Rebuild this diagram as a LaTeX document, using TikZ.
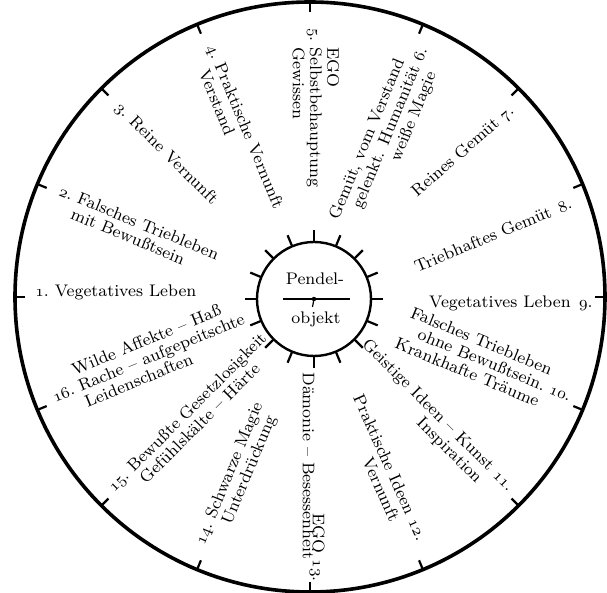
\documentclass[tikz,border=0pt]{standalone}
\usepackage{fontspec}
\usetikzlibrary{calc}
\newcommand{\osn}[1]{{\usefont{OML}{cmm}{m}{it}#1}}

\begin{document}
\begin{tikzpicture}[
    x=0.5pt, y=0.5pt,
    font=\fontsize{8.4}{8.6}\selectfont,
    rim/.style={line width=1.8pt},
    hub/.style={line width=1.2pt},
    notch/.style={line width=1.1pt},
    lbl/.style={inner sep=0pt, align=left, anchor=base west},
    rbl/.style={inner sep=0pt, align=right, anchor=base east}
  ]
  \useasboundingbox (-310,-296) rectangle (297,297);
  \coordinate (c) at (0,0);
  \coordinate (pc) at (4,-2);
  % wheel
  \draw[rim] (c) circle[radius=295];
  \draw[hub] (pc) circle[radius=57];
  \foreach \a in {0,22.5,...,337.5} {
    \draw[notch] (\a:295) -- (\a:285);
    \draw[notch] ($(pc)+(\a:57)$) -- ($(pc)+(\a:69)$);
  }
  % pendulum in the hub
  \node[inner sep=0pt, anchor=base] (pend) at (5,12) {Pendel-};
  \node[inner sep=0pt, anchor=base] (obj) at (6,-27) {objekt};
  \coordinate (bl) at (-27,-2);
  \coordinate (br) at (40,-2);
  \draw[line width=1.3pt] (bl) -- (br);
  \fill (pc) circle[radius=2.2];
  \draw[line width=0.6pt] (pc) -- ++(-1.5,-8);
  % left half: read towards the hub (anchor = last line)
  \node[lbl, rotate=0] (l1) at (180:275) {\osn{1}.~Vegetatives Leben};
  \node[lbl, rotate=-22.5] (l2) at ($(158:272)+(-112.5:17)$) {\osn{2}.~Falsches Triebleben\\\phantom{\osn{2}.~}mit Bewußtsein};
  \node[lbl, rotate=-45] (l3) at (136:272) {\osn{3}.~Reine Vernunft};
  \node[lbl, rotate=-67.5] (l4) at ($(112.5:270)+(-157.5:17)$) {\osn{4}.~Praktische Vernunft\\\phantom{\osn{4}.~}Verstand};
  \node[lbl, rotate=-90] (l5) at ($(90:269)+(180:17)$) {\phantom{\osn{5}.~}EGO\\\osn{5}.~Selbstbehauptung\\\phantom{\osn{5}.~}Gewissen};
  \node[lbl, rotate=22.5] (l16) at ($(202.5:276)+(-67.5:17)$) {\phantom{\osn{16}.~}Wilde Affekte -- Haß\\\osn{16}.~Rache -- aufgepeitschte\\\phantom{\osn{16}.~}Leidenschaften};
  \node[lbl, rotate=45] (l15) at ($(225:277)+(-45:17)$) {\osn{15}.~Bewußte Gesetzlosigkeit\\\phantom{\osn{15}.~}Gefühlskälte -- Härte};
  \node[lbl, rotate=67.5] (l14) at ($(247:270)+(-22.5:17)$) {\osn{14}.~Schwarze Magie\\\phantom{\osn{14}.~}Unterdrückung};
  \node[lbl, rotate=-90] (l13b) at (-7,-75) {Dämonie -- Besessenheit};
  % right half: read outwards
  \node[rbl, rotate=67.5] (l6) at ($(64.5:274)+(-22.5:17)$) {Gemüt, vom Verstand\phantom{~\osn{6}.}\\gelenkt. Humanität~\osn{6}.\\weiße Magie\phantom{~\osn{6}.}};
  \node[rbl, rotate=41] (l7) at (42:276) {Reines Gemüt~\osn{7}.};
  \node[rbl, rotate=22.5] (l8) at (18.7:278) {Triebhaftes Gemüt\enspace\osn{8}.};
  \node[rbl, rotate=0] (l9) at (283,-11) {Vegetatives Leben\enspace\osn{9}.};
  \node[rbl, rotate=-22.5] (l10) at ($(259,-105)+(-112.5:17)$) {Falsches Triebleben\phantom{~\osn{10}.}\\ohne Bewußtsein.~\osn{10}.\\Krankhafte Träume\phantom{~\osn{10}.}};
  \node[rbl, rotate=-45] (l11) at ($(198,-195)+(-135:17)$) {Geistige Ideen -- Kunst~\osn{11}.\\Inspiration\phantom{~\osn{11}.}};
  \node[rbl, rotate=-66] (l12) at ($(107,-245)+(-156:17)$) {Praktische Ideen~\osn{12}.\\Vernunft\phantom{~\osn{12}.}};
  \node[rbl, rotate=-90] (l13) at (3,-285) {EGO~\osn{13}.};
\end{tikzpicture}
\end{document}
